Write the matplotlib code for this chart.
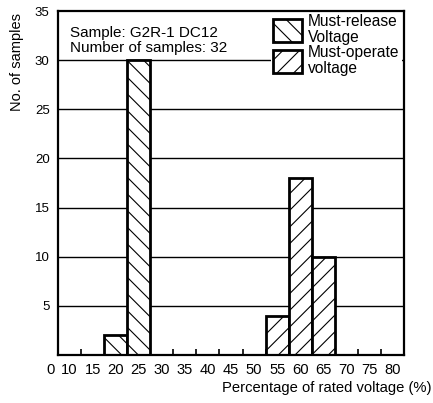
import matplotlib
matplotlib.use("Agg")
import matplotlib.pyplot as plt
from matplotlib.patches import Patch

plt.rcParams['font.family'] = ['Liberation Sans', 'DejaVu Sans']
plt.rcParams['hatch.linewidth'] = 0.8

release_x = [20, 25]
release_n = [2, 30]
operate_x = [55, 60, 65]
operate_n = [4, 18, 10]
xtick_vals = [10, 15, 20, 25, 30, 35, 40, 45, 50, 55, 60, 65, 70, 75, 80]
ytick_vals = [5, 10, 15, 20, 25, 30, 35]
bin_edges_ticks = [12.5, 32.5, 37.5, 42.5, 47.5, 52.5, 72.5, 77.5]

W, H = 433, 403
fig = plt.figure(figsize=(W / 100, H / 100), dpi=100)
ax = fig.add_axes([58 / W, 48 / H, 346 / W, 344 / H])

ax.set_xlim(7.5, 82.5)
ax.set_ylim(0, 35)

for y in ytick_vals[:-1]:
    ax.axhline(y, color='black', lw=1.0, zorder=1)

ax.bar(release_x, release_n, width=5, facecolor='white', edgecolor='black',
       linewidth=2, hatch='\\\\', zorder=3)
ax.bar(operate_x, operate_n, width=5, facecolor='white', edgecolor='black',
       linewidth=2, hatch='//', zorder=3)

for s in ax.spines.values():
    s.set_linewidth(1.6)
    s.set_zorder(8)

ax.set_yticks(ytick_vals)
ax.set_yticklabels([str(v) for v in ytick_vals], fontsize=9.5)
ax.tick_params(axis='y', length=0, pad=6)
ax.set_xticks(xtick_vals)
ax.set_xticklabels([str(v) for v in xtick_vals], fontsize=10.6)
ax.tick_params(axis='x', length=0, pad=6)
ax.set_xticks(bin_edges_ticks, minor=True)
ax.tick_params(axis='x', which='minor', direction='in', length=4, width=1.2)

fig.text(50.5 / W, 1 - 370 / H, '0', fontsize=10.6, ha='center', va='center')

fig.text(17.5 / W, 1 - 62 / H, 'No. of samples', fontsize=10.5,
         rotation=90, ha='center', va='center')
fig.text(431 / W, 1 - 388 / H, 'Percentage of rated voltage (%)', fontsize=10.6,
         ha='right', va='center')

fig.text(69.5 / W, 1 - 52.3 / H, 'Sample: G2R-1 DC12\nNumber of samples: 32',
         fontsize=11, va='baseline', ha='left', linespacing=1.12, zorder=5)

handles = [Patch(facecolor='white', edgecolor='black', linewidth=2, hatch='\\\\'),
           Patch(facecolor='white', edgecolor='black', linewidth=2, hatch='//')]
leg = ax.legend(handles, ['Must-release\nVoltage', 'Must-operate\nvoltage'],
                loc='upper left', bbox_to_anchor=((270.5 - 58) / 346, 0.997),
                fontsize=11.2,
                handlelength=1.86, handleheight=1.89, handletextpad=0.38,
                labelspacing=0.0, borderpad=0.15, borderaxespad=0,
                frameon=True, fancybox=False,
                framealpha=1, facecolor='white', edgecolor='white')
leg.get_frame().set_linewidth(0)
for t in leg.get_texts():
    t.set_linespacing(1.08)
leg.set_zorder(6)

fig.savefig('out.png', dpi=100)
